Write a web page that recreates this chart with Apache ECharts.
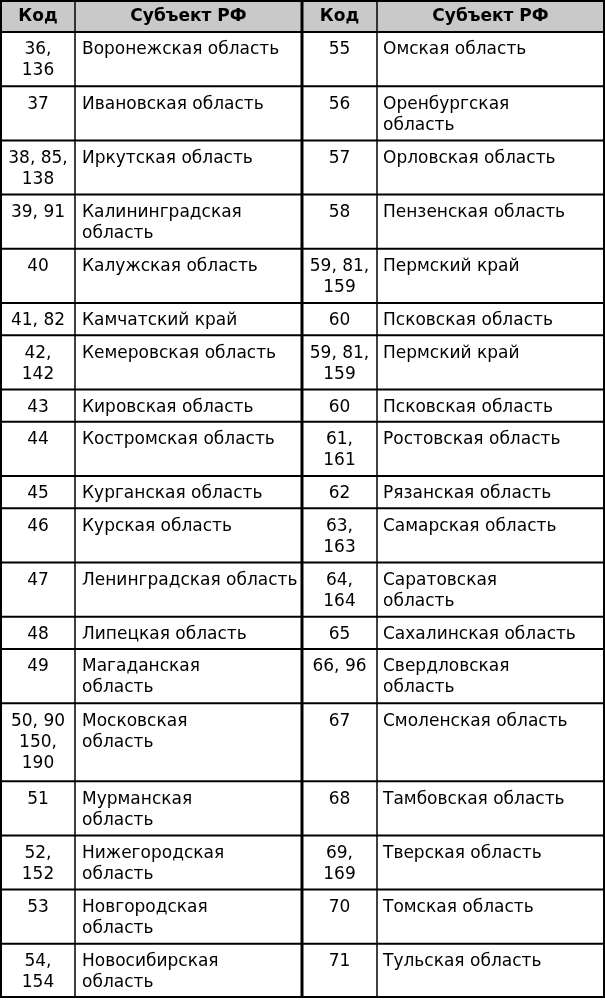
<!DOCTYPE html>
<html>
<head>
<meta charset="utf-8">
<script src="https://cdn.jsdelivr.net/npm/echarts@6/dist/echarts.min.js"></script>
<style>
html,body{margin:0;padding:0;background:#fff;}
#chart{width:605px;height:1000px;}
</style>
</head>
<body>
<div id="chart"></div>
<script>
// ---- data ----
var headers = ['Код', 'Субъект РФ', 'Код', 'Субъект РФ'];
var leftCodes = ['36,\n136', '37', '38, 85,\n138', '39, 91', '40', '41, 82', '42,\n142', '43', '44', '45', '46', '47', '48', '49', '50, 90\n150,\n190', '51', '52,\n152', '53', '54,\n154'];
var leftNames = ['Воронежская область', 'Ивановская область', 'Иркутская область', 'Калининградская\nобласть', 'Калужская область', 'Камчатский край', 'Кемеровская область', 'Кировская область', 'Костромская область', 'Курганская область', 'Курская область', 'Ленинградская область', 'Липецкая область', 'Магаданская\nобласть', 'Московская\nобласть', 'Мурманская\nобласть', 'Нижегородская\nобласть', 'Новгородская\nобласть', 'Новосибирская\nобласть'];
var rightCodes = ['55', '56', '57', '58', '59, 81,\n159', '60', '59, 81,\n159', '60', '61,\n161', '62', '63,\n163', '64,\n164', '65', '66, 96', '67', '68', '69,\n169', '70', '71'];
var rightNames = ['Омская область', 'Оренбургская\nобласть', 'Орловская область', 'Пензенская область', 'Пермский край', 'Псковская область', 'Пермский край', 'Псковская область', 'Ростовская область', 'Рязанская область', 'Самарская область', 'Саратовская\nобласть', 'Сахалинская область', 'Свердловская\nобласть', 'Смоленская область', 'Тамбовская область', 'Тверская область', 'Томская область', 'Тульская область'];

(function () {
// ---- layout (styles, not data) ----
var FONT = '"DejaVu Sans", sans-serif';
var FS = 17;
var LH = 21;
var colX = [1, 75, 302, 377, 604];   // column boundaries
var colW = [2, 1.5, 3, 1.5, 2];
var HEADER_H = 32;
var ROW_H = [0, 32.3, 54.2, 78];      // row height by number of text lines

function nLines(s) { return s.split('\n').length; }

// row extents in table units, derived from line counts
var rowTops = [0], rowBottoms = [HEADER_H];
for (var i = 0; i < leftCodes.length; i++) {
  var n = Math.max(nLines(leftCodes[i]), nLines(leftNames[i]), nLines(rightCodes[i]), nLines(rightNames[i]));
  var rt = rowBottoms[rowBottoms.length - 1];
  rowTops.push(rt);
  rowBottoms.push(rt + ROW_H[n]);
}
var lastRow = rowTops.length - 1;

var rows = [];
for (var r = 0; r <= leftCodes.length; r++) rows.push([302, (rowTops[r] + rowBottoms[r]) / 2]);

function renderItem(params, api) {
  var r = params.dataIndex;
  var p0 = api.coord([0, rowTops[r]]), p1 = api.coord([605, rowBottoms[r]]);
  var yT = p0[1], yB = p1[1];
  var children = [];
  var X = colX.map(function (x) { return api.coord([x, 0])[0]; });

  if (r === 0) {
    children.push({ type: 'rect', shape: { x: X[0], y: yT, width: X[4] - X[0], height: yB - yT }, style: { fill: '#c9c9c9' } });
  }
  var yl = r === 0 ? yT + 1 : yT;
  children.push({ type: 'line', shape: { x1: X[0] - 1, y1: yl, x2: X[4] + 1, y2: yl }, style: { stroke: '#000', lineWidth: 2 } });
  if (r === lastRow) {
    children.push({ type: 'line', shape: { x1: X[0] - 1, y1: yB - 1, x2: X[4] + 1, y2: yB - 1 }, style: { stroke: '#000', lineWidth: 2 } });
  }
  for (var c = 0; c < X.length; c++) {
    children.push({ type: 'line', shape: { x1: X[c], y1: yT, x2: X[c], y2: yB }, style: { stroke: '#000', lineWidth: colW[c] } });
  }

  if (r === 0) {
    for (var k = 0; k < 4; k++) {
      children.push({ type: 'text', style: { text: headers[k], x: (X[k] + X[k + 1]) / 2, y: (yT + yB) / 2 + 1, align: 'center', verticalAlign: 'middle', font: 'bold ' + FS + 'px ' + FONT, fill: '#000' } });
    }
  } else {
    var i = r - 1;
    var ty = yT + 7.5;
    var cells = [
      { t: leftCodes[i], x: (X[0] + X[1]) / 2, a: 'center' },
      { t: leftNames[i], x: X[1] + 7, a: 'left' },
      { t: rightCodes[i], x: (X[2] + X[3]) / 2, a: 'center' },
      { t: rightNames[i], x: X[3] + 6, a: 'left' }
    ];
    cells.forEach(function (cl) {
      children.push({ type: 'text', style: { text: cl.t, x: cl.x, y: ty, align: cl.a, verticalAlign: 'top', lineHeight: LH, font: FS + 'px ' + FONT, fill: '#000' } });
    });
  }
  return { type: 'group', children: children };
}

var chart = echarts.init(document.getElementById('chart'), null, { renderer: 'canvas' });
chart.setOption({
  animation: false,
  backgroundColor: '#fff',
  grid: { left: 0, right: 0, top: 0, bottom: 0 },
  xAxis: { type: 'value', min: 0, max: 605, show: false },
  yAxis: { type: 'value', min: 0, max: 1000, inverse: true, show: false },
  series: [{ type: 'custom', renderItem: renderItem, data: rows, clip: false }]
});
})();
</script>
</body>
</html>
